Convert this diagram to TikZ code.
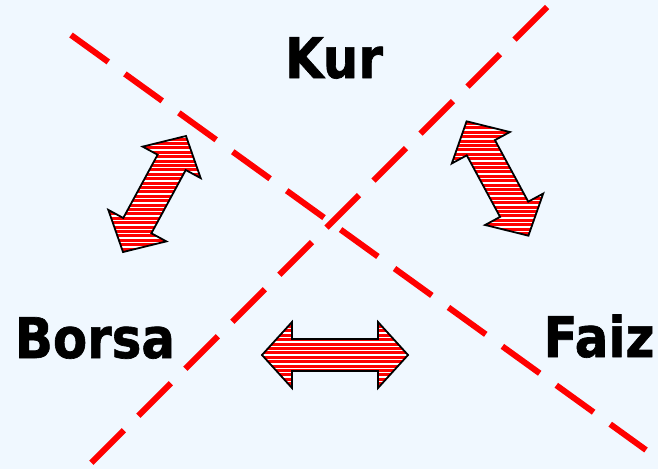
\documentclass[tikz,border=0pt]{standalone}
\usepackage{fontspec}
\setmainfont{DejaVu Sans}
\newfontfamily\labelfont{DejaVu Sans Bold}[FakeBold=1.2]
\definecolor{bgblue}{RGB}{240,248,255}
\definecolor{arrowred}{RGB}{255,0,0}
\tikzset{
  divline/.style={draw=arrowred, line width=6pt, dash pattern=on 46pt off 20.5pt, line cap=butt},
  label/.style={inner sep=0pt, anchor=base, font=\fontsize{56}{60}\selectfont\labelfont},
  arrowfill/.style={fill=arrowred},
  arrowedge/.style={draw=black, line width=1.8pt, line join=miter},
  stripe/.style={draw=white, line width=1.4pt}
}
\newcommand\dblarrowpath[1]{%
  (-#1,0) -- ({-#1+30},33) -- ({-#1+30},16) -- ({#1-30},16) -- ({#1-30},33) -- (#1,0)
  -- ({#1-30},-33) -- ({#1-30},-16) -- ({-#1+30},-16) -- ({-#1+30},-33) -- cycle}
\newcommand\dblarrow[4]{%
  \begin{scope}[shift={(#1,#2)},rotate=#3]
    \path[arrowfill] \dblarrowpath{#4};
    \begin{scope}
      \clip \dblarrowpath{#4};
      \pgftransformreset
      \foreach \k in {-20,...,20}
        \draw[stripe] ({#1-120},{#2+\k*4.4}) -- ({#1+120},{#2+\k*4.4});
    \end{scope}
    \draw[arrowedge] \dblarrowpath{#4};
  \end{scope}}
\begin{document}
\begin{tikzpicture}[x=1pt,y=-1pt]
  \fill[bgblue] (0,0) rectangle (658,469);
  \useasboundingbox (0,0) rectangle (658,469);
  \coordinate (l1a) at (71,35);
  \coordinate (l1b) at (646,450);
  \coordinate (l2a) at (547,7);
  \coordinate (l2b) at (88,466);
  \draw[divline] (l1a) -- (l1b);
  \draw[divline] (l2a) -- (l2b);
  \dblarrow{154.5}{194}{61.5}{66}
  \dblarrow{497.5}{178.5}{-61.6}{65}
  \dblarrow{335}{355}{0}{73}
  \node[label] (kur) at (334,78) {\scalebox{0.89}[1]{Kur}};
  \node[label] (borsa) at (95,358) {\scalebox{0.89}[1]{Borsa}};
  \node[label] (faiz) at (599,357) {\scalebox{0.89}[1]{Faiz}};
\end{tikzpicture}
\end{document}
